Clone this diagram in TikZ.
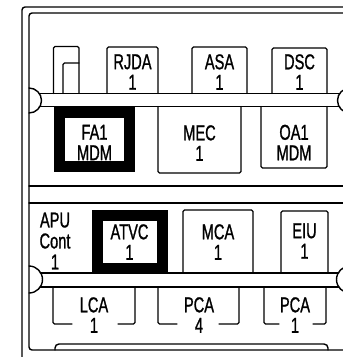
\documentclass[tikz,border=0pt]{standalone}
\usepackage{fontspec}
\setmainfont{Liberation Sans}[FakeStretch=0.68,FakeBold=1.0]
\begin{document}
\begin{tikzpicture}[x=1pt,y=-1pt,line width=1.4pt,line join=round,line cap=round,
  lbl/.style={align=center,font=\fontsize{21.5}{20.5}\selectfont,inner sep=0pt},
  lbltri/.style={align=center,font=\fontsize{21.5}{21}\selectfont,inner sep=0pt},
  rc/.style={rounded corners=1.5pt},
  heavy/.style={line width=11pt,line join=miter,line cap=butt}]
\useasboundingbox (0,0) rectangle (343,357);
\clip (0,0) rectangle (343,357);
% frame
\draw[rounded corners=3pt] (22,362) -- (22,7) -- (352,7);
\draw[rounded corners=3pt] (352,13) -- (29,13) -- (29,350) -- (352,350);
% upper bus bar
\draw (29,88) arc[start angle=-90,end angle=90,radius=12.5];
\draw (350,88) arc[start angle=270,end angle=90,radius=12.5];
\draw (39.4,93.5) -- (339.6,93.5);
\draw (39.4,106.5) -- (339.6,106.5);
% lower bus bar
\draw (29,266) arc[start angle=-90,end angle=90,radius=13.5];
\draw (350,266) arc[start angle=270,end angle=90,radius=13.5];
\draw (40.4,273) -- (338.6,273);
\draw (40.4,287) -- (338.6,287);
% separator
\draw (29,186) -- (352,186);
\draw (29,203) -- (352,203);
% bottom tab
\draw[rounded corners=4pt] (328,350) -- (328,344) -- (55,344) -- (55,350);
% upper row boxes
\draw[rc] (53.5,93.5) -- (53.5,46.5) -- (79,46.5) -- (79,93.5);
\draw[rc] (63,93.5) -- (63,63) -- (79,63);
\draw[rc] (107,93.5) -- (107,47) -- (158,47) -- (158,93.5);
\draw[rc] (192,93.5) -- (192,47) -- (247,47) -- (247,93.5);
\draw[rc] (272,93.5) -- (272,48) -- (327,48) -- (327,93.5);
\node[lbl] (rjda) at (132.5,72) {RJDA\\1};
\node[lbl] (asa) at (219.5,72) {ASA\\1};
\node[lbl] (dsc) at (299.5,72) {DSC\\1};
% second row
\draw[heavy] (59.5,112) rectangle (129.5,166.5);
\node[lbl] (fa1) at (94.5,142.5) {FA1\\MDM};
\draw[rc] (158,106.5) -- (158,173) -- (241,173) -- (241,106.5);
\node[lbl] (mec) at (199.5,143) {MEC\\1};
\draw[rc] (261,106.5) -- (261,168) -- (327,168) -- (327,106.5);
\node[lbl] (oa1) at (294,142.5) {OA1\\MDM};
% lower section
\node[lbltri] (apu) at (55,241) {APU\\Cont\\1};
\draw[heavy] (97.5,215) rectangle (162,268);
\node[lbl] (atvc) at (129.5,242) {ATVC\\1};
\draw[rc] (183,273) -- (183,210) -- (253,210) -- (253,273);
\node[lbl] (mca) at (218,242) {MCA\\1};
\draw[rc] (281,273) -- (281,211) -- (328,211) -- (328,273);
\node[lbl] (eiu) at (304.5,241) {EIU\\1};
% bracket boxes
\draw[rc] (72,324) -- (53,324) -- (53,287);
\draw[rc] (118,324) -- (135,324) -- (135,287);
\node[lbl] (lca) at (94,315) {LCA\\1};
\draw[rc] (177,324) -- (158,324) -- (158,287);
\draw[rc] (219,324) -- (239,324) -- (239,287);
\node[lbl] (pca4) at (199,315) {PCA\\4};
\draw[rc] (279,324) -- (264,324) -- (264,287);
\draw[rc] (313,324) -- (326,324) -- (326,287);
\node[lbl] (pca1) at (295,315) {PCA\\1};
\end{tikzpicture}
\end{document}
